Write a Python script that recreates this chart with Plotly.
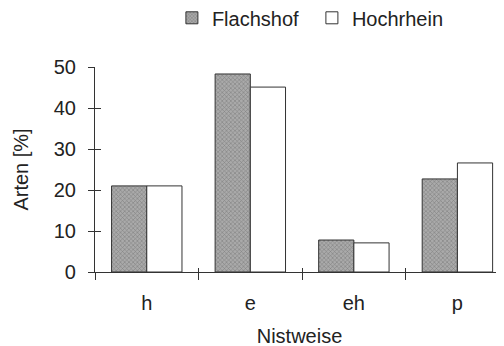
import plotly.graph_objects as go

categories = ["h", "e", "eh", "p"]
flachshof = [21, 48.3, 7.8, 22.7]
hochrhein = [21, 45.1, 7.1, 26.6]
y_ticks = [0, 10, 20, 30, 40, 50]

FONT = "Liberation Sans, Arial, sans-serif"
fig = go.Figure()
fig.add_trace(go.Bar(
    name="Flachshof", x=categories, y=flachshof,
    marker=dict(color="#a8a8a8", line=dict(color="#333333", width=1),
                pattern=dict(shape="x", fgcolor="#555555", bgcolor="#aaaaaa", size=3, solidity=0.35)),
))
fig.add_trace(go.Bar(
    name="Hochrhein", x=categories, y=hochrhein,
    marker=dict(color="white", line=dict(color="#333333", width=1)),
))
# invisible trace to carry the inside-tick overlay axes
fig.add_trace(go.Scatter(x=[], y=[], xaxis="x2", yaxis="y2", showlegend=False, hoverinfo="skip"))

fig.update_layout(
    width=504, height=346,
    margin=dict(l=87, r=8, t=59, b=82, autoexpand=False),
    paper_bgcolor="white", plot_bgcolor="white",
    font=dict(family=FONT, size=20, color="#222222"),
    barmode="group", bargap=0.32, bargroupgap=0,
    showlegend=True,
    legend=dict(orientation="h", x=0.188, xanchor="left", y=1.24, yanchor="middle",
                font=dict(size=20, color="#222222"), itemwidth=30, entrywidth=95,
                traceorder="normal", bgcolor="rgba(0,0,0,0)"),
    xaxis=dict(
        type="category", range=[-0.5, 3.45], showline=True, linecolor="#333333", linewidth=1.2,
        ticks="outside", tickson="boundaries", ticklen=7, tickcolor="#333333", tickwidth=1.2,
        showgrid=False, zeroline=False, ticklabelstandoff=13,
        title=dict(text="Nistweise", font=dict(size=20), standoff=15),
        tickfont=dict(size=20),
    ),
    yaxis=dict(
        range=[0, 50], tickvals=y_ticks, showline=True, linecolor="#333333", linewidth=1.2,
        ticks="outside", ticklen=6, tickcolor="#333333", tickwidth=1.2,
        showgrid=False, zeroline=False, ticklabelstandoff=8,
        title=dict(text="Arten [%]", font=dict(size=20), standoff=19),
        tickfont=dict(size=20),
    ),
    xaxis2=dict(overlaying="x", type="category", range=[-0.5, 3.45], categoryarray=categories,
                tickvals=categories, ticks="inside", tickson="boundaries", ticklen=4,
                tickcolor="#333333", tickwidth=1.2, showticklabels=False, showgrid=False,
                zeroline=False, showline=False, side="bottom"),
    yaxis2=dict(overlaying="y", range=[0, 50], tickvals=y_ticks, ticks="inside", ticklen=6,
                tickcolor="#333333", tickwidth=1.2, showticklabels=False, showgrid=False,
                zeroline=False, showline=False),
)

fig.write_html("out.html")
